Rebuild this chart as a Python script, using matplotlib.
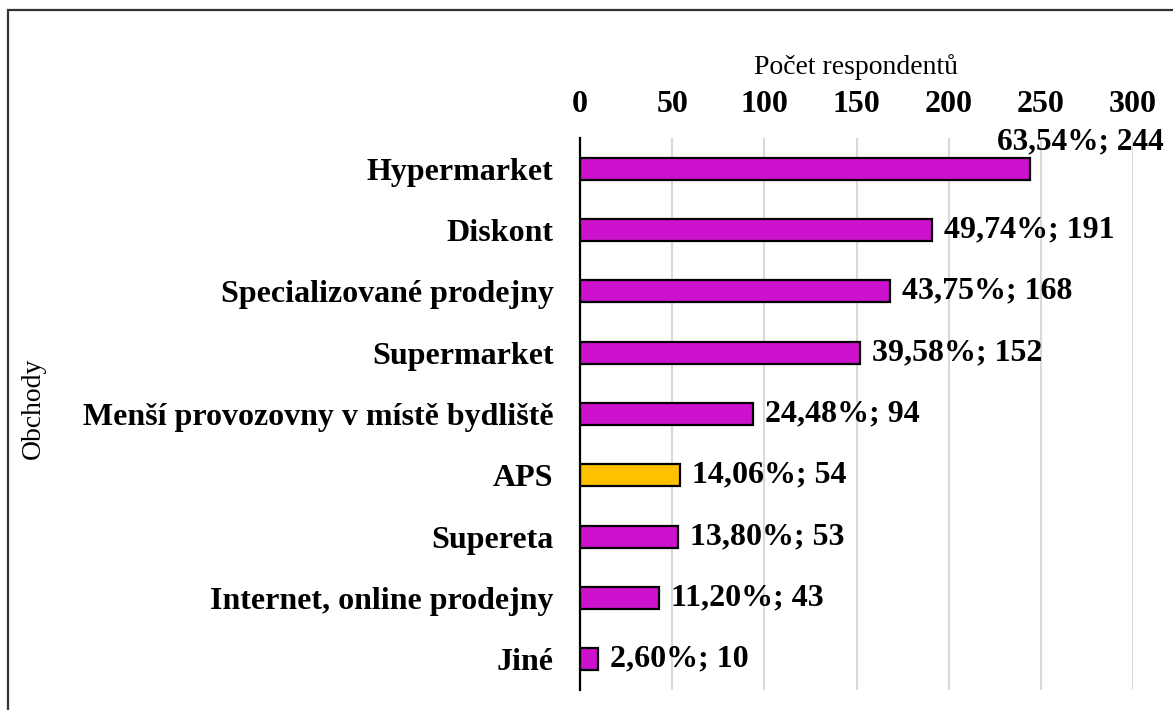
import matplotlib
matplotlib.use("Agg")
import matplotlib.pyplot as plt
from matplotlib.patches import Rectangle

categories = ["Hypermarket", "Diskont", "Specializované prodejny", "Supermarket",
              "Menší provozovny v místě bydliště", "APS", "Supereta",
              "Internet, online prodejny", "Jiné"]
counts = [244, 191, 168, 152, 94, 54, 53, 43, 10]
percents = ["63,54%", "49,74%", "43,75%", "39,58%", "24,48%", "14,06%", "13,80%", "11,20%", "2,60%"]
xticks = [0, 50, 100, 150, 200, 250, 300]
highlight = "APS"

plt.rcParams['font.family'] = ['Liberation Serif', 'DejaVu Serif']

W, H = 1173, 710
fig = plt.figure(figsize=(W / 100, H / 100), dpi=100)
ax_left, ax_right, ax_top, ax_bottom = 580, 1133, 138, 690
ax = fig.add_axes([ax_left / W, 1 - ax_bottom / H, (ax_right - ax_left) / W, (ax_bottom - ax_top) / H])

magenta = "#CC12CC"
gold = "#FFC000"
colors = [gold if c == highlight else magenta for c in categories]
y = list(range(len(categories)))
ax.barh(y, counts, height=0.36, color=colors, edgecolor="black", linewidth=1.6, zorder=3)

ax.set_xlim(0, 300)
ax.set_ylim(len(categories) - 0.5, -0.5)
ax.set_xticks(xticks)
ax.set_xticklabels([str(t) for t in xticks], fontsize=23, fontweight="bold")
ax.set_yticks(y)
ax.set_yticklabels(categories, fontsize=23, fontweight="bold")
ax.xaxis.tick_top()
ax.xaxis.set_label_position("top")
ax.tick_params(axis="x", length=0, pad=13.5)
ax.tick_params(axis="y", length=0, pad=19)
ax.grid(axis="x", color="#D9D9D9", linewidth=1.5, zorder=0)
ax.set_axisbelow(True)
for s in ["top", "right", "bottom"]:
    ax.spines[s].set_visible(False)
ax.spines["left"].set_linewidth(1.6)
ax.spines["left"].set_zorder(4)

ax.set_xlabel("Počet respondentů", fontsize=20, labelpad=12)
ax.set_ylabel("Obchody", fontsize=20)
ax.yaxis.set_label_coords(-0.966, 0.511)

for i, (c, p) in enumerate(zip(counts, percents)):
    lbl = f"{p}; {c}"
    if i == 0:
        ax.annotate(lbl, xy=(c, i - 0.18), xytext=(-33, 1), textcoords="offset pixels",
                    ha="left", va="bottom", fontsize=22.5, fontweight="bold", annotation_clip=False)
    else:
        ax.annotate(lbl, xy=(c, i), xytext=(12, 0), textcoords="offset pixels",
                    ha="left", va="center", fontsize=23, fontweight="bold", annotation_clip=False)

border = Rectangle((8 / W, -0.1), 1.2, (1 - 10 / H) + 0.1, transform=fig.transFigure,
                   fill=False, edgecolor="#333333", linewidth=1.6)
fig.patches.append(border)

fig.savefig("out.png", dpi=100)
